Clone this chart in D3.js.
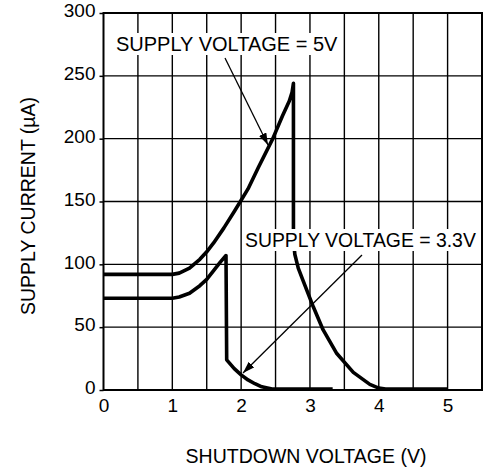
<!DOCTYPE html>
<html>
<head>
<meta charset="utf-8">
<script src="https://cdn.jsdelivr.net/npm/d3@7"></script>
<style>
  body { margin: 0; background: #fff; }
  text { font-family: "Liberation Sans", Arial, sans-serif; fill: #000; }
</style>
</head>
<body>
<svg id="chart" width="490" height="468"></svg>
<script>
// supply current vs shutdown voltage
var xTicks = [0, 1, 2, 3, 4, 5];
var yTicks = [0, 50, 100, 150, 200, 250, 300];

var v5x = [0, 0.5, 1.0, 1.1, 1.25, 1.4, 1.5, 1.6, 1.75, 1.9, 2.0, 2.1, 2.25, 2.46, 2.6, 2.7, 2.74, 2.76,
           2.76, 2.78, 2.83, 2.9, 3.05, 3.19, 3.39, 3.63, 3.87, 4.0, 4.1, 4.5, 5.0];
var v5y = [92, 92, 92, 93, 97, 104, 110, 117, 129, 142, 151, 160, 177, 200, 218, 230, 237, 244,
           120, 108, 97, 87, 66, 48, 29, 14, 4.5, 1.5, 0.8, 0.8, 0.8];

var v33x = [0, 0.5, 1.0, 1.1, 1.25, 1.4, 1.5, 1.6, 1.7, 1.78, 1.79, 1.9, 2.0, 2.1, 2.2, 2.3, 2.45, 3.33];
var v33y = [73, 73, 73, 74, 77, 83, 88, 95, 102, 107, 24, 17, 12, 8, 5, 2.5, 0.8, 0.8];

var svg = d3.select("#chart"),
    margin = {top: 13, right: 8, bottom: 78, left: 103.5},
    width = 490 - margin.left - margin.right,
    height = 468 - margin.top - margin.bottom,
    g = svg.append("g").attr("transform", "translate(" + margin.left + "," + margin.top + ")");

var x = d3.scaleLinear().domain([0, 5.5]).range([0, width]),
    y = d3.scaleLinear().domain([0, 300]).range([height, 0]);

var defs = svg.append("defs");
defs.append("marker")
    .attr("id", "head")
    .attr("viewBox", "0 0 12 8")
    .attr("refX", 12)
    .attr("refY", 4)
    .attr("markerWidth", 12)
    .attr("markerHeight", 8)
    .attr("markerUnits", "userSpaceOnUse")
    .attr("orient", "auto")
    .append("path")
    .attr("d", "M0,0L12,4L0,8Z")
    .attr("fill", "#000");

// grid
g.selectAll(".vgrid")
    .data(d3.range(1, 11).map(function (i) { return i * 0.5; }))
    .enter().append("line")
    .attr("class", "vgrid")
    .attr("x1", function (d) { return x(d); })
    .attr("x2", function (d) { return x(d); })
    .attr("y1", 0)
    .attr("y2", height)
    .attr("stroke", "#000")
    .attr("stroke-width", 1.4);

g.selectAll(".hgrid")
    .data(yTicks.slice(1, -1))
    .enter().append("line")
    .attr("class", "hgrid")
    .attr("x1", 0)
    .attr("x2", width)
    .attr("y1", function (d) { return y(d); })
    .attr("y2", function (d) { return y(d); })
    .attr("stroke", "#000")
    .attr("stroke-width", 1.4);

g.append("rect")
    .attr("width", width)
    .attr("height", height)
    .attr("fill", "none")
    .attr("stroke", "#000")
    .attr("stroke-width", 2);

// axes
var yAxis = g.append("g")
    .call(d3.axisLeft(y).tickValues(yTicks).tickSize(4).tickPadding(4));
yAxis.select(".domain").remove();
yAxis.selectAll("line").attr("stroke-width", 1.5);
yAxis.selectAll("text").style("font-size", "19px").attr("dy", "0.2em");

var xAxis = g.append("g")
    .attr("transform", "translate(0," + height + ")")
    .call(d3.axisBottom(x).tickValues(xTicks).tickFormat(d3.format("d")).tickSize(0).tickPadding(9));
xAxis.select(".domain").remove();
xAxis.selectAll("text").style("font-size", "19px");

svg.append("text")
    .attr("x", 306)
    .attr("y", 463)
    .attr("text-anchor", "middle")
    .style("font-size", "19.5px")
    .text("SHUTDOWN VOLTAGE (V)");

svg.append("text")
    .attr("transform", "translate(35,206) rotate(-90)")
    .attr("text-anchor", "middle")
    .style("font-size", "19.5px")
    .text("SUPPLY CURRENT (µA)");

// curves
var line = d3.line()
    .x(function (d) { return x(d[0]); })
    .y(function (d) { return y(d[1]); });

[[v5x, v5y], [v33x, v33y]].forEach(function (s) {
    g.append("path")
        .datum(d3.zip(s[0], s[1]))
        .attr("d", line)
        .attr("fill", "none")
        .attr("stroke", "#000")
        .attr("stroke-width", 3.6)
        .attr("stroke-linejoin", "round");
});

// labels with arrows
function label(txt, size, tx, ty, ax1, ay1, ax2, ay2) {
    var t = svg.append("text")
        .attr("x", tx)
        .attr("y", ty)
        .style("font-size", size)
        .text(txt);
    var bb = t.node().getBBox();
    svg.insert("rect", function () { return t.node(); })
        .attr("x", bb.x - 2)
        .attr("y", bb.y)
        .attr("width", bb.width + 4)
        .attr("height", bb.height)
        .attr("fill", "#fff");
    svg.append("line")
        .attr("x1", ax1).attr("y1", ay1)
        .attr("x2", ax2).attr("y2", ay2)
        .attr("stroke", "#000")
        .attr("stroke-width", 1.3)
        .attr("marker-end", "url(#head)");
}

label("SUPPLY VOLTAGE = 5V", "20px", 116, 51, 225, 58, 268, 145);
label("SUPPLY VOLTAGE = 3.3V", "19.4px", 245, 247, 362, 255, 243, 373);
</script>
</body>
</html>
